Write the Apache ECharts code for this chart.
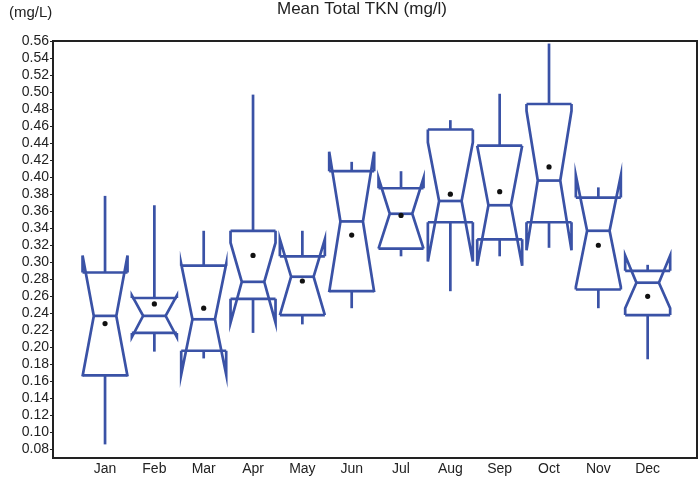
<!DOCTYPE html>
<html>
<head>
<meta charset="utf-8">
<script src="https://cdn.jsdelivr.net/npm/echarts@6/dist/echarts.min.js"></script>
<style>
  html, body { margin: 0; padding: 0; background: #fff; }
  #chart { width: 700px; height: 479px; }
</style>
</head>
<body>
<div id="chart"></div>
<script>
// monthly notched box plot data (mg/L)
const months = ['Jan', 'Feb', 'Mar', 'Apr', 'May', 'Jun', 'Jul', 'Aug', 'Sep', 'Oct', 'Nov', 'Dec']
const maxVals = [0.378, 0.367, 0.337, 0.497, 0.337, 0.418, 0.407, 0.467, 0.498, 0.557, 0.388, 0.297]
const q3Vals = [0.288, 0.258, 0.296, 0.337, 0.307, 0.407, 0.387, 0.456, 0.437, 0.486, 0.376, 0.290]
const medianVals = [0.237, 0.237, 0.233, 0.277, 0.283, 0.348, 0.357, 0.372, 0.367, 0.396, 0.337, 0.276]
const q1Vals = [0.167, 0.217, 0.196, 0.257, 0.238, 0.266, 0.316, 0.347, 0.327, 0.347, 0.268, 0.238]
const minVals = [0.086, 0.195, 0.187, 0.217, 0.227, 0.246, 0.307, 0.266, 0.307, 0.317, 0.246, 0.186]
const meanVals = [0.228, 0.251, 0.246, 0.308, 0.278, 0.332, 0.355, 0.380, 0.383, 0.412, 0.320, 0.260]
const notchLow = [0.166, 0.212, 0.168, 0.229, 0.238, 0.265, 0.316, 0.301, 0.296, 0.314, 0.271, 0.246]
const notchHigh = [0.308, 0.261, 0.298, 0.323, 0.327, 0.430, 0.399, 0.441, 0.437, 0.478, 0.402, 0.308]
const yTickLabels = ['0.08', '0.10', '0.12', '0.14', '0.16', '0.18', '0.20', '0.22', '0.24', '0.26', '0.28',
  '0.30', '0.32', '0.34', '0.36', '0.38', '0.40', '0.42', '0.44', '0.46', '0.48', '0.50', '0.52', '0.54', '0.56']

const BLUE = '#3a52a6'
const FONT = 'Liberation Sans'
const BOX_HALF = 0.456

const boxData = months.map((m, i) => [
  i + 1, minVals[i], q1Vals[i], medianVals[i], q3Vals[i], maxVals[i], meanVals[i], notchLow[i], notchHigh[i]
])

const renderBox = (params, api) => {
  const x = api.value(0)
  const y = idx => api.coord([x, api.value(idx)])[1]
  const cx = api.coord([x, api.value(3)])[0]
  const W = api.size([BOX_HALF, 0])[0]
  const w = W / 2
  const yMin = y(1), yQ1 = y(2), yMed = y(3), yQ3 = y(4), yMax = y(5), yMean = y(6), yNL = y(7), yNH = y(8)
  const style = { stroke: BLUE, lineWidth: 2.7, fill: null, lineJoin: 'miter' }
  const line = pts => ({ type: 'polyline', shape: { points: pts }, style })
  return {
    type: 'group',
    children: [
      line([[cx, yQ3], [cx, yMax]]),
      line([[cx, yQ1], [cx, yMin]]),
      line([[cx - W, yQ1], [cx - W, yNL], [cx - w, yMed], [cx - W, yNH], [cx - W, yQ3]]),
      line([[cx + W, yQ1], [cx + W, yNL], [cx + w, yMed], [cx + W, yNH], [cx + W, yQ3]]),
      line([[cx - W, yQ1], [cx + W, yQ1]]),
      line([[cx - W, yQ3], [cx + W, yQ3]]),
      line([[cx - w, yMed], [cx + w, yMed]]),
      { type: 'circle', shape: { cx, cy: yMean, r: 2.6 }, style: { fill: '#111', stroke: null } }
    ]
  }
}

const chart = echarts.init(document.getElementById('chart'))
chart.setOption({
  animation: false,
  title: [
    {
      text: 'Mean Total TKN (mg/l)', left: 357, top: -4, textAlign: 'center',
      textStyle: { fontFamily: FONT, fontSize: 17, fontWeight: 'normal', color: '#222' }
    },
    {
      text: '(mg/L)', left: 4, top: 0,
      textStyle: { fontFamily: FONT, fontSize: 15, fontWeight: 'normal', color: '#222' }
    }
  ],
  grid: { left: 53, right: 3, top: 41, bottom: 21, show: true, borderColor: '#222', borderWidth: 2 },
  xAxis: {
    type: 'value',
    min: -0.055,
    max: 13,
    splitLine: { show: false },
    axisLine: { show: false },
    axisTick: { show: false },
    axisLabel: {
      customValues: months.map((m, i) => i + 1),
      formatter: v => months[Math.round(v) - 1] || '',
      fontFamily: FONT, fontSize: 14, color: '#222', margin: 4
    }
  },
  yAxis: {
    type: 'value',
    min: 0.07,
    max: 0.56,
    splitLine: { show: false },
    axisLine: { show: true, onZero: false, lineStyle: { color: '#222', width: 2 } },
    axisTick: { show: true, length: 3, customValues: yTickLabels.map(Number), lineStyle: { color: '#222' } },
    axisLabel: {
      customValues: yTickLabels.map(Number),
      formatter: v => v.toFixed(2),
      fontFamily: FONT, fontSize: 14, color: '#222', margin: 4
    }
  },
  series: [
    {
      type: 'custom',
      renderItem: renderBox,
      data: boxData,
      encode: { x: 0, y: [1, 2, 3, 4, 5] },
      clip: false
    }
  ]
})
</script>
</body>
</html>
